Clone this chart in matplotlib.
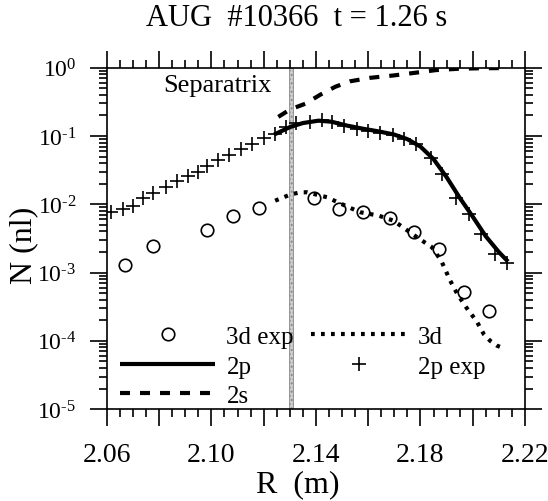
import numpy as np
import matplotlib
matplotlib.use("Agg")
import matplotlib.pyplot as plt
from matplotlib.ticker import MultipleLocator, LogLocator, NullFormatter, FuncFormatter

plt.rcParams['font.family'] = ['Liberation Serif', 'DejaVu Serif']
plt.rcParams['mathtext.fontset'] = 'custom'
plt.rcParams['mathtext.rm'] = 'Liberation Serif'

# measured 2p population (crosses)
r_2p_exp = [2.0616, 2.0661, 2.0700, 2.0738, 2.0778, 2.0827, 2.0868, 2.0909, 2.0947,
            2.0985, 2.1027, 2.1068, 2.1114, 2.1157, 2.1203, 2.1244, 2.1284, 2.1325,
            2.1378, 2.1423, 2.1461, 2.1508, 2.1558, 2.1601, 2.1646, 2.1694, 2.1738,
            2.1784, 2.1839, 2.1883, 2.1935, 2.1987, 2.2033, 2.2084, 2.2132]
n_2p_exp = [7.6e-3, 8.4e-3, 9.6e-3, 1.23e-2, 1.47e-2, 1.78e-2, 2.23e-2, 2.58e-2, 3.02e-2,
            3.69e-2, 4.48e-2, 5.21e-2, 6.49e-2, 7.69e-2, 9.31e-2, 0.108, 0.134, 0.154,
            0.160, 0.169, 0.159, 0.141, 0.125, 0.118, 0.1125, 0.103, 0.0895,
            0.0755, 0.0479, 0.0274, 0.0124, 7.2e-3, 3.7e-3, 1.9e-3, 1.4e-3]

# measured 3d population (circles)
r_3d_exp = [2.0670, 2.0776, 2.0983, 2.1081, 2.1183, 2.1391, 2.1487, 2.1582, 2.1682,
            2.1776, 2.1872, 2.1965, 2.2061]
n_3d_exp = [1.29e-3, 2.43e-3, 4.26e-3, 6.7e-3, 8.85e-3, 1.24e-2, 8.6e-3, 7.66e-3, 6.3e-3,
            3.98e-3, 2.22e-3, 5.25e-4, 2.76e-4]

# model profiles
r_2p = [2.1240, 2.1300, 2.1350, 2.1410, 2.1460, 2.1520, 2.1580, 2.1640, 2.1700,
        2.1750, 2.1800, 2.1850, 2.1900, 2.1950, 2.2000, 2.2050, 2.2100, 2.2135]
n_2p = [0.105, 0.135, 0.155, 0.168, 0.162, 0.142, 0.128, 0.117, 0.105,
        0.090, 0.070, 0.046, 0.025, 0.0125, 6.6e-3, 3.4e-3, 2.0e-3, 1.45e-3]

r_3d = [2.1244, 2.1302, 2.1340, 2.1367, 2.1442, 2.1525, 2.1570, 2.1640, 2.1697, 2.1742,
        2.1787, 2.1844, 2.1880, 2.1914, 2.1941, 2.1984, 2.2014, 2.2042, 2.2067, 2.2093, 2.2125]
n_3d = [1.13e-2, 1.39e-2, 1.50e-2, 1.50e-2, 1.27e-2, 9.07e-3, 7.65e-3, 6.83e-3, 5.76e-3, 4.35e-3,
        3.29e-3, 2.35e-3, 1.48e-3, 7.6e-4, 4.85e-4, 2.76e-4, 1.97e-4, 1.26e-4, 1.0e-4, 8.5e-5, 7.6e-5]

r_2s = [2.1256, 2.1302, 2.1359, 2.1416, 2.1474, 2.1531, 2.1608, 2.1696, 2.1780,
        2.1860, 2.1945, 2.2029, 2.2132]
n_2s = [0.191, 0.246, 0.297, 0.402, 0.527, 0.634, 0.713, 0.771, 0.845,
        0.925, 0.967, 0.984, 0.990]

r_sep = 2.1305
sep_halfwidth = 0.0008

fig = plt.figure(figsize=(5.48, 5.02), dpi=100)
ax = fig.add_axes([0.195, 0.183, 0.763, 0.680])

ax.axvspan(r_sep - sep_halfwidth, r_sep + sep_halfwidth, facecolor='#cccccc',
           edgecolor='#8a8a8a', lw=0.6, hatch='....', zorder=1)

h_2p, = ax.plot(r_2p, n_2p, '-', color='black', lw=3.0, solid_capstyle='butt', zorder=3)
h_2s, = ax.plot(r_2s, n_2s, color='black', lw=3.0, dashes=(2.4, 2.4),
                dash_capstyle='butt', zorder=3)
h_3d, = ax.plot(r_3d, n_3d, color='black', lw=3.0, dashes=(0.9, 1.5),
                dash_capstyle='butt', zorder=3)
h_2pe, = ax.plot(r_2p_exp, n_2p_exp, '+', color='black', ms=10, mew=1.2, zorder=4)
h_3de, = ax.plot(r_3d_exp, n_3d_exp, 'o', mfc='none', mec='black', ms=9, mew=1.2, zorder=4)

ax.set_yscale('log')
ax.set_xlim(2.06, 2.22)
ax.set_ylim(1e-5, 1)

ax.xaxis.set_major_locator(MultipleLocator(0.02))
ax.xaxis.set_minor_locator(MultipleLocator(0.005))


def r_label(v, pos):
    k = round((v - 2.06) / 0.02)
    return f"{v:.2f}" if k % 2 == 0 else ""


def decade_label(v, pos):
    e = int(round(np.log10(v)))
    sign = r"\text{-}" if e < 0 else ""
    return rf"$\mathdefault{{10^{{{sign}{abs(e)}}}}}$"


ax.xaxis.set_major_formatter(FuncFormatter(r_label))
ax.yaxis.set_major_locator(LogLocator(base=10, numticks=10))
ax.yaxis.set_major_formatter(FuncFormatter(decade_label))
ax.yaxis.set_minor_locator(LogLocator(base=10, subs=np.arange(2, 10), numticks=20))
ax.yaxis.set_minor_formatter(NullFormatter())

ax.tick_params(which='both', direction='out', top=True, right=True, width=1.2,
               colors='black')
ax.tick_params(which='major', length=12)
ax.tick_params(which='minor', length=6)
ax.tick_params(axis='x', which='major', pad=12, labelsize=20)
ax.tick_params(axis='y', which='major', pad=10, labelsize=17)
for s in ax.spines.values():
    s.set_linewidth(1.2)

ax.text(2.0815, 0.55, 'Separatrix', fontsize=19, ha='left', va='center')

fig.text(0.541, 0.964, 'AUG  #10366  t = 1.26 s', fontsize=22, ha='center', va='center')
fig.text(298 / 548, 1 - 485 / 502, 'R  (m)', fontsize=23, ha='center', va='center')
fig.text(24 / 548, 1 - 245 / 502, 'N (nl)', fontsize=23, ha='center', va='center',
         rotation=90)

handles = [h_3de, h_2p, h_2s, h_3d, h_2pe]
labels = ['3d exp', '2p', '2s', '3d', '2p exp']
ax.legend(handles, labels, ncol=2, loc='lower left', bbox_to_anchor=(0.032, 0.006),
          frameon=False, fontsize=18, handlelength=3.8, handletextpad=0.45,
          columnspacing=0.7, labelspacing=0.28, borderpad=0, borderaxespad=0,
          numpoints=1)

fig.savefig('out.png', dpi=100)
